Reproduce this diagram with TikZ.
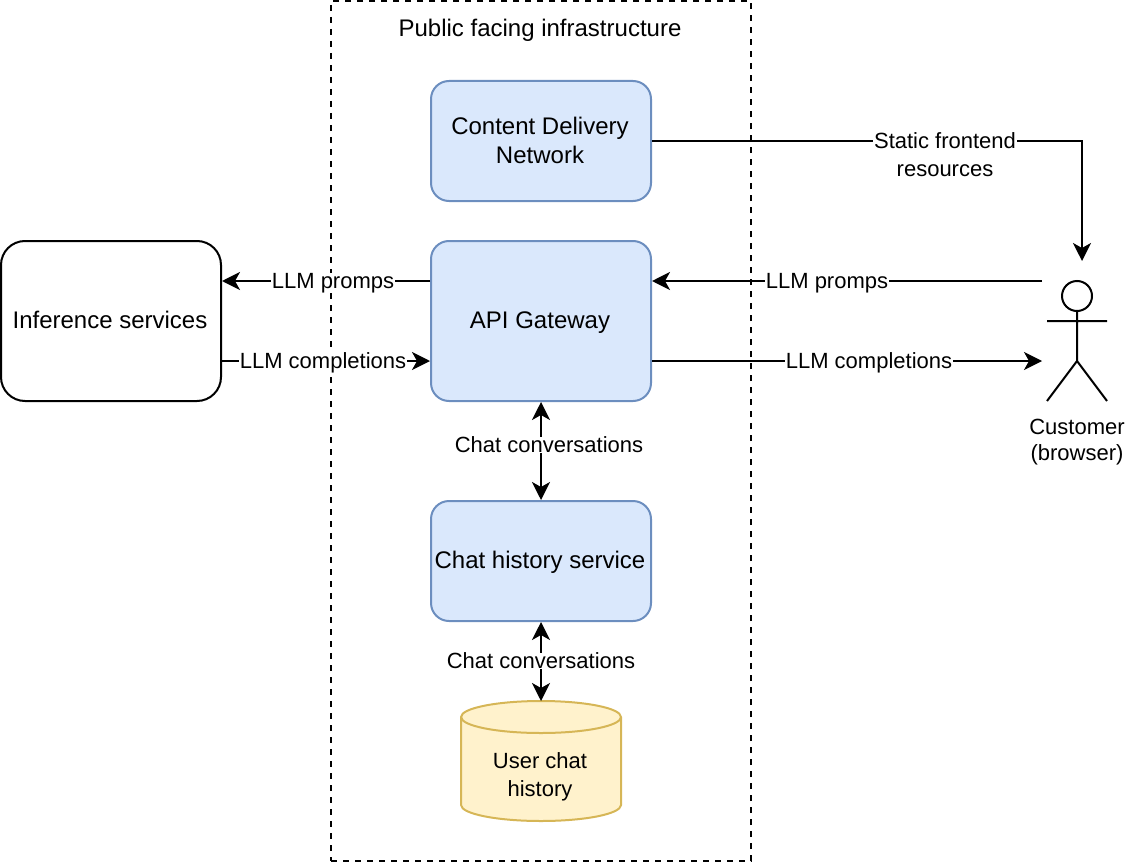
\documentclass[tikz,border=0pt]{standalone}
\usepackage{fontspec}
\setmainfont{Liberation Sans}
\usetikzlibrary{arrows.meta,shapes.geometric}
\definecolor{bluefill}{HTML}{DAE8FC}
\definecolor{blueline}{HTML}{6C8EBF}
\definecolor{yelfill}{HTML}{FFF2CC}
\definecolor{yelline}{HTML}{D6B656}
\tikzset{x=1pt,y=-1pt,
 big/.style={font=\fontsize{24}{29}\selectfont},
 small/.style={font=\fontsize{22}{28}\selectfont},
 every node/.style={align=center,inner sep=0pt},
 svc/.style={draw=blueline,fill=bluefill,rounded corners=18pt,line width=2pt,minimum width=220pt,minimum height=120pt},
 conn/.style={draw=black,line width=2pt,-{Stealth[length=18pt,width=18pt,inset=5pt]}},
 bi/.style={draw=black,line width=2pt,{Stealth[length=18pt,width=18pt,inset=5pt]}-{Stealth[length=18pt,width=18pt,inset=5pt]}},
 lab/.style={fill=white,inner xsep=1pt,inner ysep=0pt,small}}
\begin{document}
\begin{tikzpicture}
\useasboundingbox (0,0) rectangle (1126,864);
\node[draw=black,dash pattern=on 6pt off 6pt,line width=2pt,minimum width=420pt,minimum height=860pt] (zone) at (541,431) {};
\node[big] (zonelab) at (540,30) {Public facing infrastructure};
\node[svc] (cdn) at (541,141) {};
\node[big] (cdntxt) at (540,140.5) {Content Delivery\\Network};
\node[svc,minimum height=160pt] (api) at (541,321) {};
\node[big] (apitxt) at (540,323) {API Gateway};
\node[svc] (hist) at (541,561) {};
\node[big] (histtxt) at (540,562) {Chat history service};
\node[draw=black,fill=white,rounded corners=24pt,line width=2pt,minimum width=220pt,minimum height=160pt] (inf) at (111,321) {};
\node[big] (inftxt) at (110,320) {Inference services};
% cylinder
\coordinate (cyltop) at (541,701);
\draw[draw=yelline,fill=yelfill,line width=2pt] (461,717) arc[x radius=80,y radius=-16,start angle=180,end angle=0] -- (621,805) arc[x radius=80,y radius=-16,start angle=0,end angle=-180] -- cycle;
\draw[draw=yelline,line width=2pt] (461,717) arc[x radius=80,y radius=-16,start angle=180,end angle=360];
\node[small] (db) at (540,777) {User chat\\history};
% actor
\draw[line width=2pt] (1077,296) circle[radius=15];
\draw[line width=2pt] (1077,311) -- (1077,361) (1047,321) -- (1107,321) (1047,401) -- (1077,361) -- (1107,401);
\node[font=\fontsize{22}{26}\selectfont] (cust) at (1077,442) {Customer\\(browser)};
\coordinate (acthead) at (1082,261);
\coordinate (actl1) at (1042,281);
\coordinate (actl2) at (1042,361);
% connectors
\draw[conn] (cdn.east) -- (1082,141) -- (acthead);
\node[lab] (l1) at (945,155) {Static frontend\\resources};
\draw[conn] (actl1) -- (api.east |- actl1);
\node[lab] (l2) at (827,283) {LLM promps};
\draw[conn] (api.east |- actl2) -- (actl2);
\node[lab] (l3) at (869,363) {LLM completions};
\draw[conn] (api.west |- actl1) -- (inf.east |- actl1);
\node[lab] (l4) at (333,283) {LLM promps};
\draw[conn] (inf.east |- actl2) -- (api.west |- actl2);
\node[lab] (l5) at (323,363) {LLM completions};
\draw[bi] (api) -- (hist);
\node[lab] (l6) at (549,445) {Chat conversations};
\draw[bi] (hist) -- (cyltop);
\node[lab] (l7) at (541,661) {Chat conversations};
\end{tikzpicture}
\end{document}
